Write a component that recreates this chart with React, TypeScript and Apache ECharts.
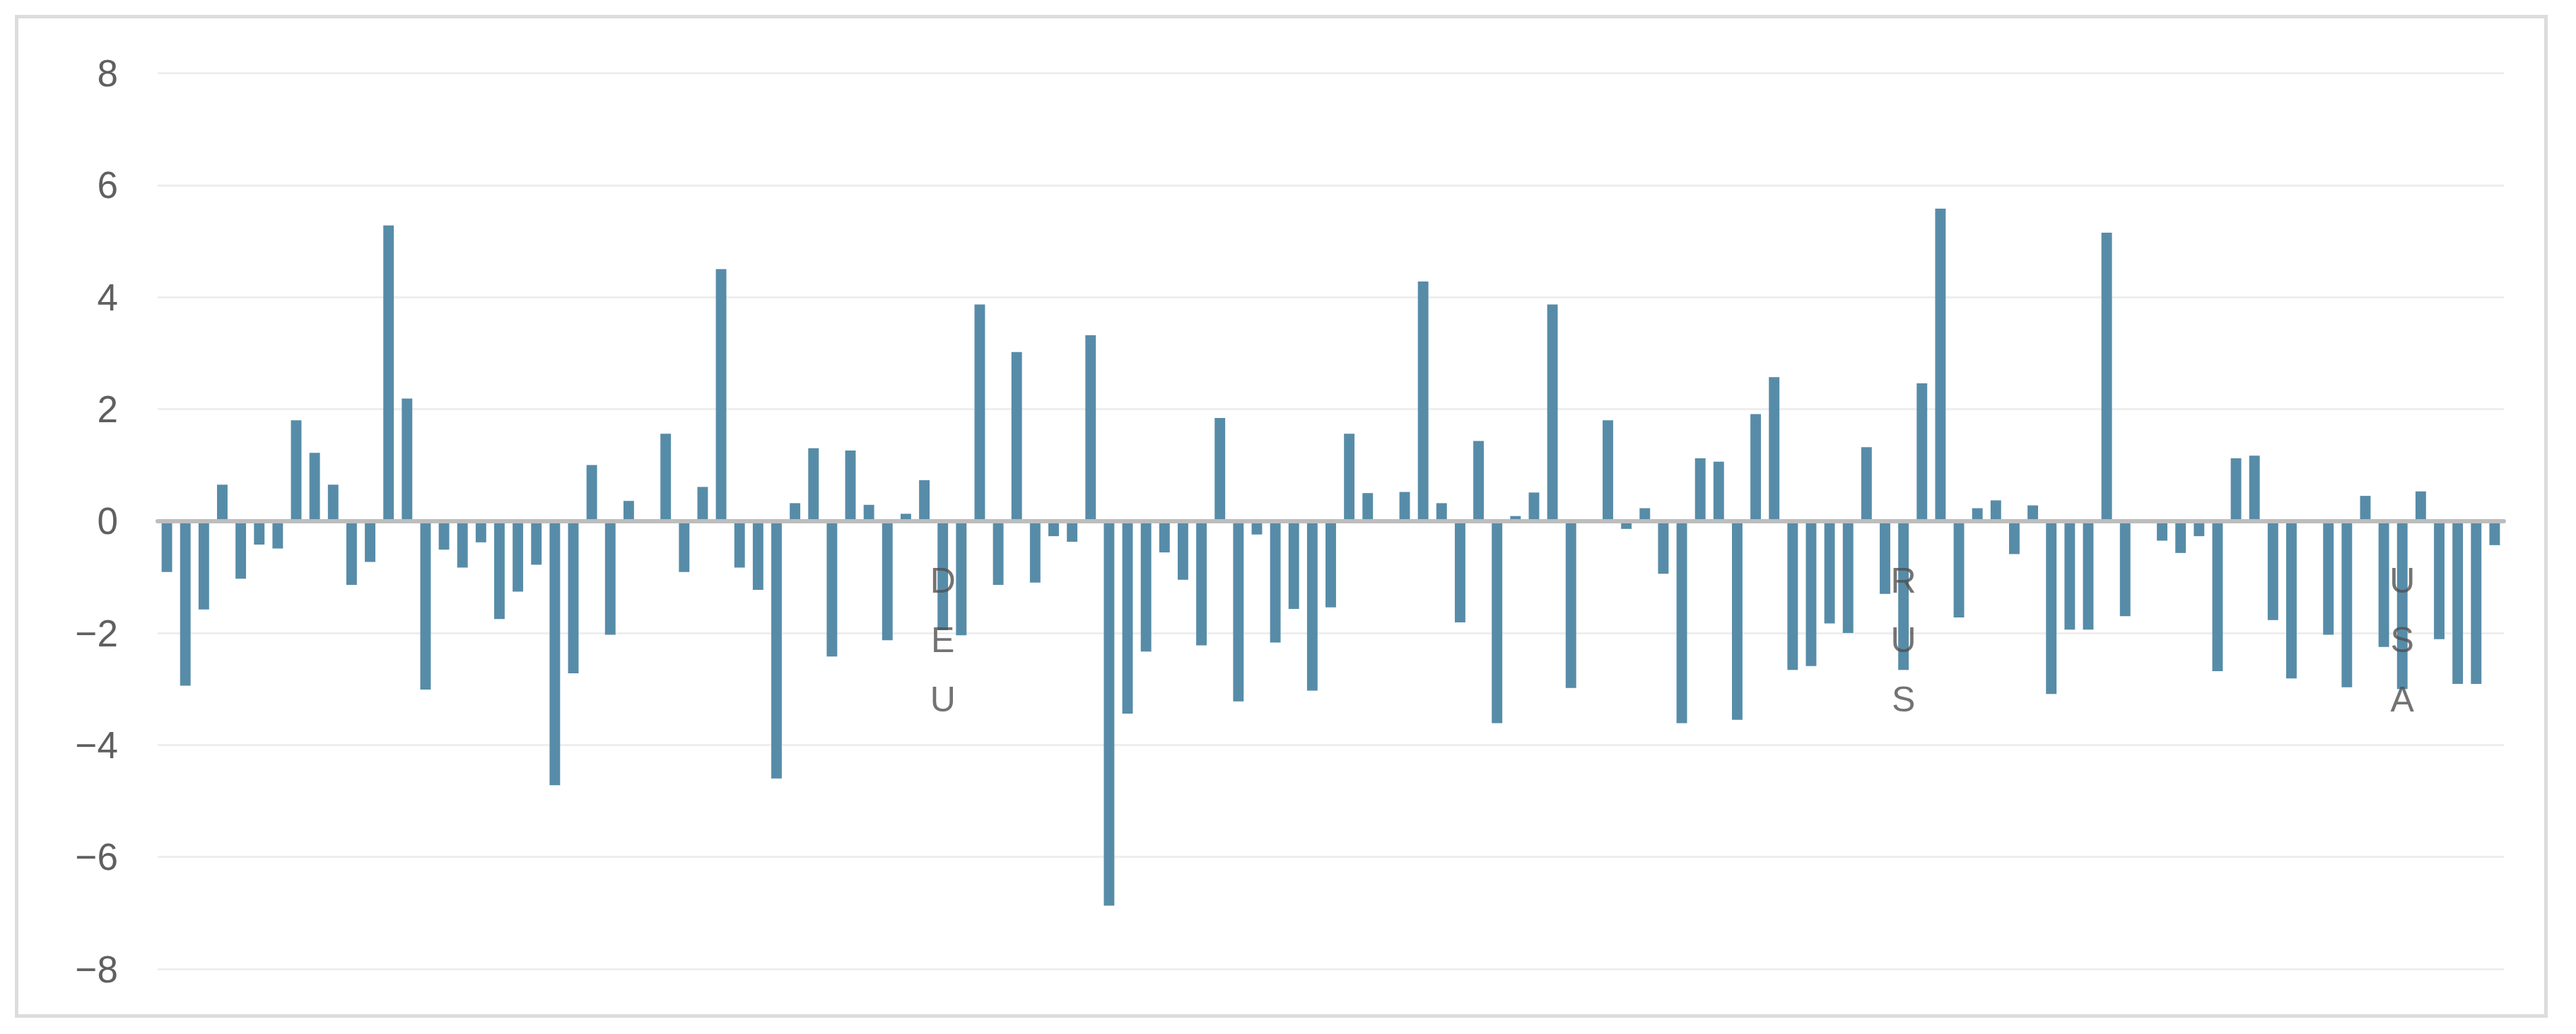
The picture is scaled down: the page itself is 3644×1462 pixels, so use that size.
import React, { useEffect, useRef } from "react";
import * as echarts from "echarts";

const countries: string[] = [
  "AFG","AGO","ALB","ARE","ARG","ARM","ATG","AUS","AUT","AZE","BDI","BEL","BEN","BFA","BGD","BGR","BHR","BHS","BIH","BLR","BLZ","BOL","BRA","BRB","BTN","BWA","CAF","CAN","CHE","CHL","CHN","CIV","CMR","COD","COG","COL","COM","CPV","CRI","CUB","CYP","CZE",
  "DEU",
  "DNK","DOM","DZA","ECU","EGY","ESP","EST","ETH","FIN","FRA","GBR","GEO","GHA","GIN","GRC","GTM","HND","HRV","HUN","IDN","IND","IRL","IRN","IRQ","ISR","ITA","JOR","JPN","KAZ","KEN","KOR","KWT","LBN","LKA","LTU","LVA","MAR","MEX","MMR","MOZ","MYS","NGA","NLD","NOR","NZL","PAK","PAN","PER","PHL","POL","PRT",
  "RUS",
  "RWA","SAU","SDN","SEN","SGP","SLE","SLV","SOM","SRB","SVK","SVN","SWE","SWZ","SYR","TCD","TGO","THA","TJK","TKM","TTO","TUN","TUR","TZA","UGA","UKR","URY",
  "USA",
  "UZB","VNM","YEM","ZAF","ZMB",
];

const values: (number | null)[] = [
  -0.91, -2.94, -1.58, 0.65, -1.03, -0.42, -0.49, 1.80, 1.22, 0.65,
  -1.14, -0.73, 5.28, 2.19, -3.01, -0.51, -0.83, -0.38, -1.75, -1.26,
  -0.78, -4.72, -2.72, 1.00, -2.03, 0.36, null, 1.56, -0.91, 0.61,
  4.50, -0.83, -1.23, -4.60, 0.32, 1.30, -2.42, 1.26, 0.29, -2.13,
  0.13, 0.73, -1.95, -2.04, 3.87, -1.14, 3.02, -1.10, -0.27, -0.37,
  3.32, -6.87, -3.44, -2.33, -0.56, -1.05, -2.22, 1.84, -3.22, -0.24,
  -2.17, -1.57, -3.03, -1.54, 1.56, 0.50, null, 0.52, 4.28, 0.32,
  -1.81, 1.43, -3.61, 0.09, 0.51, 3.87, -2.98, null, 1.80, -0.14,
  0.23, -0.94, -3.61, 1.12, 1.06, -3.55, 1.91, 2.57, -2.66, -2.59,
  -1.83, -2.00, 1.32, -1.30, -2.66, 2.46, 5.58, -1.72, 0.23, 0.37,
  -0.59, 0.28, -3.09, -1.94, -1.94, 5.15, -1.70, null, -0.35, -0.57,
  -0.27, -2.68, 1.12, 1.17, -1.77, -2.81, null, -2.03, -2.97, 0.45,
  -2.25, -3.00, 0.53, -2.11, -2.91, -2.91, -0.43,
];

const labelledCountries: string[] = ["DEU", "RUS", "USA"];
const yTicks = { min: -8, max: 8, interval: 2 };

export default function App() {
  const ref = useRef<HTMLDivElement>(null);

  useEffect(() => {
    if (!ref.current) return;
    const chart = echarts.init(ref.current, undefined, { renderer: "svg" });
    chart.setOption({
      animation: false,
      backgroundColor: "transparent",
      grid: {
        left: 223,
        right: 102,
        top: 103.5,
        bottom: 92,
        containLabel: false,
        outerBoundsMode: "none",
      },
      xAxis: {
        type: "category",
        data: countries,
        z: 5,
        axisLine: { show: true, onZero: true, lineStyle: { color: "#bdbdbd", width: 6 } },
        axisTick: { show: false },
        splitLine: { show: false },
        axisLabel: { show: false },
      },
      yAxis: {
        type: "value",
        min: yTicks.min,
        max: yTicks.max,
        interval: yTicks.interval,
        axisLine: { show: false },
        axisTick: { show: false },
        splitLine: { show: true, lineStyle: { color: "#eeeeee", width: 3 } },
        axisLabel: {
          margin: 56,
          fontSize: 53,
          color: "#606060",
          fontFamily: "Liberation Sans, Arial, sans-serif",
          formatter: (v: number) => (v < 0 ? "\u2212" + Math.abs(v) : String(v)),
        },
      },
      series: [
        {
          type: "bar",
          data: values,
          barWidth: "57%",
          itemStyle: { color: "#578ca8" },
          z: 2,
        },
        {
          type: "scatter",
          data: labelledCountries.map((c) => [c, 0]),
          symbolSize: 0,
          silent: true,
          z: 10,
          label: {
            show: true,
            position: "bottom",
            distance: 42,
            fontSize: 50,
            lineHeight: 84,
            color: "#505050",
            fontFamily: "Liberation Sans, Arial, sans-serif",
            formatter: (p: any) => String(p.value[0]).split("").join("\n"),
          },
        },
      ],
    });
    return () => chart.dispose();
  }, []);

  return (
    <div style={{ position: "absolute", left: 0, top: 0, width: 3644, height: 1462, background: "#ffffff" }}>
      <div
        style={{
          position: "absolute",
          left: 21,
          top: 21,
          width: 3583,
          height: 1418,
          boxSizing: "border-box",
          border: "5px solid #dcdcdc",
        }}
      />
      <div ref={ref} style={{ position: "absolute", left: 0, top: 0, width: 3644, height: 1462 }} />
    </div>
  );
}
